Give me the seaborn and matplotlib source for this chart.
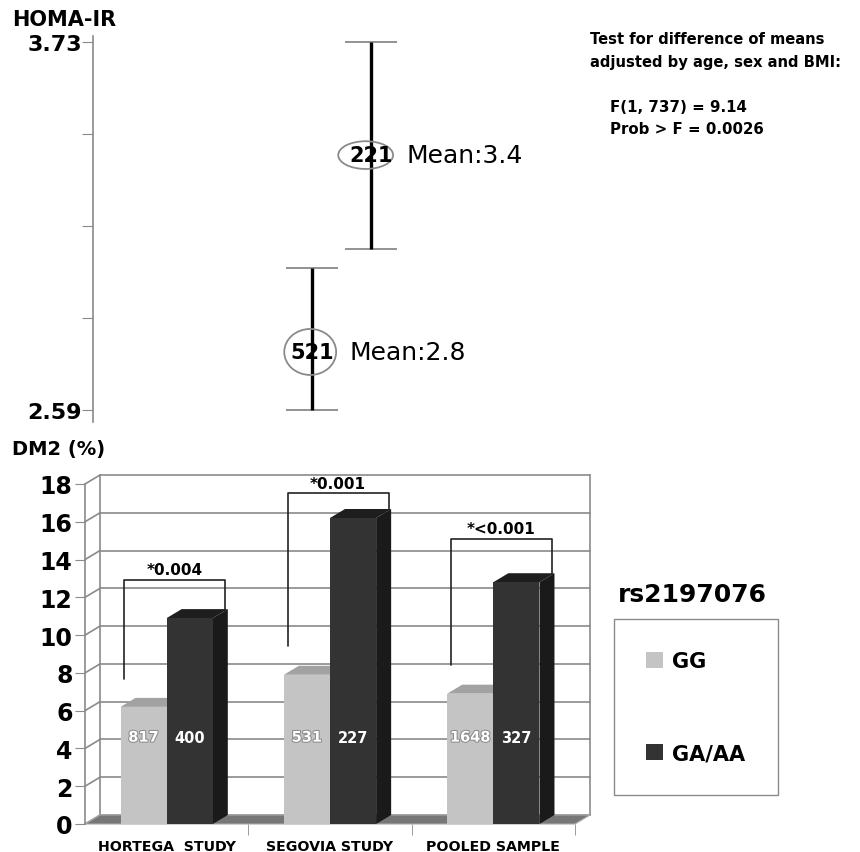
"""
HOMA-IR means and DM2 prevalence by rs2197076 genotype
"""
import matplotlib
matplotlib.use("Agg")
import matplotlib.pyplot as plt
import matplotlib.patheffects as pe
from matplotlib.patches import Ellipse, Polygon
import seaborn as sns
import pandas as pd
import numpy as np

# HOMA-IR panel (GG, GA/AA)
homa_groups = ["GG", "GA/AA"]
homa_n = [521, 221]
homa_mean = [2.77, 3.38]
homa_low = [2.59, 3.09]
homa_high = [3.03, 3.73]
homa_mean_labels = ["Mean:2.8", "Mean:3.4"]
homa_ylim = [2.59, 3.73]

# DM2 panel
studies = ["HORTEGA  STUDY", "SEGOVIA STUDY", "POOLED SAMPLE"]
genotypes = ["GG", "GA/AA"]
dm2_gg = [6.2, 7.9, 6.9]
dm2_ga = [10.9, 16.2, 12.8]
n_gg = [817, 531, 1648]
n_ga = [400, 227, 327]
p_values = ["*0.004", "*0.001", "*<0.001"]
bracket_top = [12.9, 17.5, 15.1]

W, H = 860, 853
GRAY = "#8a8a8a"


def fx(px):
    return px / W


def fy(py):
    return 1 - py / H


sns.set_style("white")
plt.rcParams["font.family"] = ["DejaVu Sans"]
plt.rcParams["text.color"] = "black"
plt.rcParams["xtick.labelcolor"] = "black"
plt.rcParams["ytick.labelcolor"] = "black"
fig = plt.figure(figsize=(W / 100, H / 100), dpi=100)

# ---------------- top panel ----------------
ax1 = fig.add_axes([fx(93), fy(423), fx(W - 93), (423 - 37) / H])
ax1.set_ylim(2.553, 3.749)
ax1.set_xlim(-3.712, 9.29)
hx = np.arange(len(homa_groups))
ax1.vlines(hx, homa_low, homa_high, color="black", lw=2.4, zorder=3)
for ends in (homa_low, homa_high):
    ax1.hlines(ends, hx - 0.44, hx + 0.44, color=GRAY, lw=1.3, zorder=2)

ell_style = [(-0.03, 0.88, 0.1425), (-0.09, 0.93, 0.086)]
for i, (x, m) in enumerate(zip(hx, homa_mean)):
    off, ew, eh = ell_style[i]
    ax1.add_patch(Ellipse((x + off, m), ew, eh, fill=False, ec=GRAY,
                          lw=1.3, zorder=4))
    ax1.text(x, m, str(homa_n[i]), ha="center", va="center",
             fontsize=15, fontweight="bold", zorder=5)
    ax1.text(x + off + ew / 2 + 0.22, m, homa_mean_labels[i], ha="left",
             va="center", fontsize=18)

ax1.set_yticks(np.linspace(homa_ylim[0], homa_ylim[1], 5))
ax1.set_yticklabels([f"{homa_ylim[0]:.2f}", "", "", "", f"{homa_ylim[1]:.2f}"],
                    fontsize=16, fontweight="bold")
ax1.tick_params(axis="y", direction="out", length=8, color=GRAY, pad=0, left=True)
ax1.set_xticks([])
for s in ["top", "right", "bottom"]:
    ax1.spines[s].set_visible(False)
ax1.spines["left"].set_color(GRAY)
ax1.spines["left"].set_linewidth(1.2)

fig.text(fx(12), fy(20), "HOMA-IR", fontsize=15, fontweight="bold", va="center")
fig.text(fx(590), fy(40), "Test for difference of means", fontsize=10.6,
         fontweight="bold", va="center")
fig.text(fx(590), fy(62), "adjusted by age, sex and BMI:", fontsize=10.6,
         fontweight="bold", va="center")
fig.text(fx(610), fy(108), "F(1, 737) = 9.14", fontsize=10.8,
         fontweight="bold", va="center")
fig.text(fx(610), fy(130), "Prob > F = 0.0026", fontsize=10.8,
         fontweight="bold", va="center")

# ---------------- bottom panel ----------------
ax2 = fig.add_axes([fx(85), fy(825), fx(490), 340 / H])
df = pd.DataFrame({"Study": studies * 2,
                   "Genotype": ["GG"] * 3 + ["GA/AA"] * 3,
                   "DM2": dm2_gg + dm2_ga})
sns.barplot(data=df, x="Study", y="DM2", hue="Genotype", hue_order=genotypes,
            palette=["#c4c4c4", "#333333"], saturation=1, width=0.565,
            errorbar=None, ax=ax2, zorder=3, linewidth=0)
ax2.set_xlim(-0.5, 2.5)
ax2.set_ylim(0, 18)

# depth of the 3D effect, in data units
x0d, y0d = ax2.transData.inverted().transform(ax2.transData.transform((0, 0)))
x1d, y1d = ax2.transData.inverted().transform(
    ax2.transData.transform((0, 0)) + np.array([15, 9]))
dx, dy = x1d - x0d, y1d - y0d

# back wall
yt = np.arange(0, 19, 2)
for y in yt:
    ax2.plot([-0.5 + dx, 2.5 + dx], [y + dy, y + dy], color=GRAY, lw=1.2,
             zorder=0.5, clip_on=False)
    ax2.plot([-0.5, -0.5 + dx], [y, y + dy], color=GRAY, lw=1.2,
             zorder=0.5, clip_on=False)
for xe in (-0.5 + dx, 2.5 + dx):
    ax2.plot([xe, xe], [dy, 18 + dy], color=GRAY, lw=1.2, zorder=0.5,
             clip_on=False)
# floor
ax2.add_patch(Polygon([(-0.5, 0), (2.5, 0), (2.5 + dx, dy), (-0.5 + dx, dy)],
                      closed=True, fc="#777777", ec="#aaaaaa", lw=0.8,
                      zorder=1, clip_on=False))

face_cols = [("#a2a2a2", "#9a9a9a"), ("#1e1e1e", "#1a1a1a")]
counts = [n_gg, n_ga]
for k, cont in enumerate(ax2.containers):
    top_c, side_c = face_cols[k]
    for j, bar in enumerate(cont):
        x, w, h = bar.get_x(), bar.get_width(), bar.get_height()
        ax2.add_patch(Polygon([(x, h), (x + w, h), (x + w + dx, h + dy),
                               (x + dx, h + dy)], closed=True, fc=top_c,
                              ec="none", zorder=2, clip_on=False))
        ax2.add_patch(Polygon([(x + w, 0), (x + w, h), (x + w + dx, h + dy),
                               (x + w + dx, dy)], closed=True, fc=side_c,
                              ec="none", zorder=2, clip_on=False))
        txt = ax2.text(x + w / 2, 4.6, str(counts[k][j]), ha="center",
                       va="center", color="white", fontsize=10.5,
                       fontweight="bold", zorder=5)
        if k == 0:
            txt.set_path_effects([pe.withStroke(linewidth=1.5,
                                                foreground="#8c8c8c")])

# significance brackets
for j in range(len(studies)):
    left, right = j - 0.26, j + 0.36
    top = bracket_top[j]
    ax2.plot([left, left, right, right],
             [dm2_gg[j] + 1.5, top, top, dm2_ga[j] + 0.4],
             color="#222222", lw=1.2, zorder=6, clip_on=False)
    ax2.text(j + 0.05, top + 0.55, p_values[j], ha="center", va="center",
             fontsize=11, fontweight="bold", zorder=6)

ax2.set_yticks(yt)
ax2.set_yticklabels([str(v) for v in yt], fontsize=17, fontweight="bold")
ax2.tick_params(axis="y", direction="out", length=7, color=GRAY, pad=2, left=True)
ax2.set_xticks(range(len(studies)))
ax2.set_xticklabels(studies, fontsize=10.2, fontweight="bold")
ax2.set_xticks([0.5, 1.5, 2.5], minor=True)
ax2.tick_params(axis="x", which="major", length=0, pad=11)
ax2.tick_params(axis="x", which="minor", direction="out", length=8,
                color=GRAY, bottom=True)
ax2.set_xlabel("")
ax2.set_ylabel("")
for s in ["top", "right", "bottom"]:
    ax2.spines[s].set_visible(False)
ax2.spines["left"].set_color(GRAY)
ax2.spines["left"].set_linewidth(1.2)

handles, labels = ax2.get_legend_handles_labels()
ax2.legend(handles, labels, loc="upper left",
           bbox_to_anchor=(fx(614), fy(620)), bbox_transform=fig.transFigure,
           frameon=True, fancybox=False, edgecolor=GRAY, framealpha=1,
           prop={"size": 15, "weight": "bold"}, labelspacing=3.45,
           borderpad=1.55, handlelength=0.8, handleheight=0.8,
           handletextpad=0.45, borderaxespad=0)

fig.text(fx(618), fy(595), "rs2197076", fontsize=18, fontweight="bold",
         va="center")
fig.text(fx(12), fy(450), "DM2 (%)", fontsize=14, fontweight="bold",
         va="center")

plt.savefig("out.png", dpi=100)
